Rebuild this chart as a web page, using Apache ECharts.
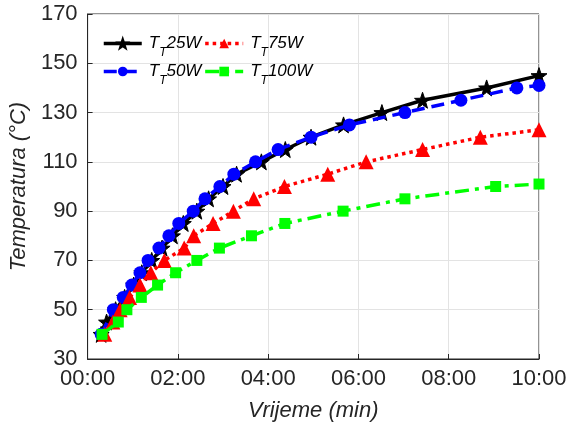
<!DOCTYPE html>
<html><head><meta charset="utf-8">
<script src="https://cdn.jsdelivr.net/npm/echarts@6/dist/echarts.min.js"></script>
<style>html,body{margin:0;padding:0;background:#fff}#c{width:570px;height:427px}</style>
</head><body><div id="c"></div>
<script>
// Time (minutes) at which each temperature was reached
const t25  = [0.30,0.42,0.62,0.82,1.02,1.20,1.42,1.65,1.88,2.12,2.42,2.68,3.00,3.30,3.85,4.38,4.95,5.67,6.52,7.42,8.84,10.0];
const T25  = [40,45,50,55,60,65,70,75,80,85,90,95,100,105,110,115,120,125,130,135,140,145];
const t50  = [0.30,0.57,0.79,0.98,1.16,1.34,1.58,1.80,2.02,2.34,2.60,2.93,3.24,3.72,4.22,4.95,5.80,7.03,8.27,9.51,10.0];
const T50  = [40,50,55,60,65,70,75,80,85,90,95,100,105,110,115,120,125,130,135,140,141];
const t75  = [0.38,0.56,0.72,0.93,1.16,1.40,1.70,2.14,2.35,2.78,3.23,3.68,4.36,5.32,6.17,7.42,8.70,10.0];
const T75  = [40,45,50,55,60,65,70,75,80,85,90,95,100,105,110,115,120,123];
const t100 = [0.32,0.68,0.87,1.19,1.55,1.95,2.42,2.92,3.63,4.37,5.66,7.03,9.04,10.0];
const T100 = [40,45,50,55,60,65,70,75,80,85,90,95,100,101];
const xTicks = [0,2,4,6,8,10];
const names = ['25W','50W','75W','100W'];

const zip = (a,b) => a.map((v,i)=>[v,b[i]]);
const star = 'path://M0,-10 L2.35,-3.24 L9.51,-3.09 L3.8,1.24 L5.88,8.09 L0,4 L-5.88,8.09 L-3.8,1.24 L-9.51,-3.09 L-2.35,-3.24 Z';
const FONT = 'Liberation Sans';
const AX = '#262626';

const legendText = {
  fontFamily: FONT, color: '#000', padding: [0,0,0,2],
  rich: {
    a: {fontFamily: FONT, fontSize: 17, fontStyle: 'italic', color:'#000', lineHeight: 22, verticalAlign:'middle'},
    b: {fontFamily: FONT, fontSize: 12, fontStyle: 'italic', color:'#000', lineHeight: 22, verticalAlign:'bottom', padding:[0,0,-4,0]}
  }
};
const legendFmt = n => '{a|T}{b|T}{a|' + n + '}';
const legendBase = {itemWidth: 38, itemHeight: 12, itemGap: 2, formatter: legendFmt, textStyle: legendText,
  lineStyle: {width: 3.5}};

const chart = echarts.init(document.getElementById('c'), null, {renderer:'canvas'});
chart.setOption({
  animation: false,
  backgroundColor: '#fff',
  grid: {left: 82, right: 31, top: 14, bottom: 68, show: true, borderColor: AX, borderWidth: 1, backgroundColor: 'transparent'},
  legend: [
    Object.assign({data: ['25W','75W'], left: 97, top: 30}, legendBase),
    Object.assign({data: ['50W','100W'], left: 97, top: 58}, legendBase)
  ],
  xAxis: {
    type: 'value', min: 0, max: 10, interval: 2,
    name: 'Vrijeme (min)', nameLocation: 'middle', nameGap: 41,
    nameTextStyle: {fontFamily: FONT, fontSize: 22, fontStyle: 'italic', color: AX},
    axisLine: {lineStyle: {color: AX, width: 1}},
    axisTick: {inside: true, length: 5, lineStyle: {color: AX}},
    axisLabel: {margin: 9, fontFamily: FONT, fontSize: 22, color: AX,
      formatter: v => xTicks.includes(v) ? String(v).padStart(2,'0') + ':00' : ''},
    splitLine: {show: true, lineStyle: {color: '#e3e3e3', width: 1}}
  },
  yAxis: {
    type: 'value', min: 30, max: 170, interval: 20,
    name: 'Temperatura (°C)', nameLocation: 'middle', nameGap: 48,
    nameTextStyle: {fontFamily: FONT, fontSize: 22, fontStyle: 'italic', color: AX},
    axisLine: {show: true, lineStyle: {color: AX, width: 1}},
    axisTick: {show: true, inside: true, length: 5, lineStyle: {color: AX}},
    axisLabel: {margin: 10, fontFamily: FONT, fontSize: 22, color: AX},
    splitLine: {show: true, lineStyle: {color: '#e3e3e3', width: 1}}
  },
  series: [
    {name: '25W', type: 'line', data: zip(t25, T25), symbol: star, symbolSize: 16,
      lineStyle: {color: '#000', width: 3.5, type: 'solid'}, itemStyle: {color: '#000', borderColor: '#000', borderWidth: 1}, z: 2},
    {name: '50W', type: 'line', data: zip(t50, T50), symbol: 'circle', symbolSize: 13,
      lineStyle: {color: '#0000ff', width: 3.5, type: [13, 7]}, itemStyle: {color: '#0000ff'}, z: 3},
    {name: '75W', type: 'line', data: zip(t75, T75), symbol: 'triangle', symbolSize: 15,
      lineStyle: {color: '#ff0000', width: 3.5, type: [3.5, 4]}, itemStyle: {color: '#ff0000'}, z: 4},
    {name: '100W', type: 'line', data: zip(t100, T100), symbol: 'rect', symbolSize: 11,
      lineStyle: {color: '#00ff00', width: 3.5, type: [14, 6, 4, 6]}, itemStyle: {color: '#00ff00'}, z: 5}
  ]
});
</script></body></html>
